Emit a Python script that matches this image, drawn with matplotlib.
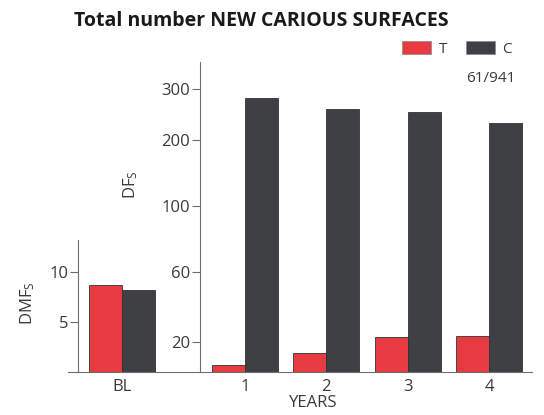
import numpy as np
import matplotlib
matplotlib.use('Agg')
import matplotlib.pyplot as plt
from matplotlib.patches import Patch

plt.rcParams['font.family'] = ['Open Sans', 'DejaVu Sans']
plt.rcParams['mathtext.fontset'] = 'custom'
plt.rcParams['mathtext.rm'] = 'Open Sans'
plt.rcParams['mathtext.it'] = 'Open Sans'

# ---- data ----
baseline_label = ['BL']
baseline_T = [8.7]
baseline_C = [8.2]

years = [1, 2, 3, 4]
year_labels = ['1', '2', '3', '4']
treat_T = [4.5, 12.3, 22.9, 23.5]
control_C = [282, 261, 255, 233]

left_ticks = [5, 10]
right_ticks = [20, 60, 100, 200, 300]

RED = '#e63b40'
DARK = '#3f4043'
SPINE = '#6e6e6e'
TXT = '#3a3a3a'

# broken (piecewise) y scale
knot_vals = np.array([0, 20, 60, 100, 200, 300, 400])
knot_pos = np.array([0, 30.0, 99.4, 166.0, 231.7, 282.4, 333.1])


def fwd(v):
    return np.interp(v, knot_vals, knot_pos)


def inv(p):
    return np.interp(p, knot_pos, knot_vals)


fig = plt.figure(figsize=(5.44, 4.15), dpi=100)
W, H = 544, 415


def box(x0, x1, ytop, ybot):
    return [x0 / W, (H - ybot) / H, (x1 - x0) / W, (ybot - ytop) / H]


# ---- baseline panel ----
axL = fig.add_axes(box(68, 200, 240, 371.7))
bw = 0.404
xl = np.arange(len(baseline_label))
axL.bar(xl - bw / 2, baseline_T, bw, color=RED, edgecolor='#333333', linewidth=0.6)
axL.bar(xl + bw / 2, baseline_C, bw, color=DARK, edgecolor='#333333', linewidth=0.6)
axL.set_xlim(-0.667, 0.949)
axL.set_ylim(0, 13.2)
axL.set_yticks(left_ticks)
axL.set_xticks(xl)
axL.set_xticklabels(baseline_label)
axL.spines['left'].set_position(('axes', 10 / 132))
for s in ['top', 'right']:
    axL.spines[s].set_visible(False)
for s in ['left', 'bottom']:
    axL.spines[s].set_color(SPINE)
axL.tick_params(axis='x', length=0, pad=5, labelsize=12, colors=TXT)
axL.tick_params(axis='y', length=6, width=0.8, color=SPINE, labelsize=12, colors=TXT, pad=1)
axL.patch.set_alpha(0)

# ---- yearly panel ----
axR = fig.add_axes(box(200, 532, 62, 371.7))
axR.set_yscale('function', functions=(fwd, inv))
xr = np.array(years)
axR.bar(xr - bw / 2, treat_T, bw, color=RED, edgecolor='#333333', linewidth=0.6)
axR.bar(xr + bw / 2, control_C, bw, color=DARK, edgecolor='#333333', linewidth=0.6)
axR.set_xlim(0.449, 4.526)
axR.set_ylim(0, 354)
axR.set_yticks(right_ticks)
axR.set_yticklabels([str(t) for t in right_ticks])
axR.minorticks_off()
axR.set_xticks(xr)
axR.set_xticklabels(year_labels)
for s in ['top', 'right']:
    axR.spines[s].set_visible(False)
for s in ['left', 'bottom']:
    axR.spines[s].set_color(SPINE)
axR.tick_params(axis='x', length=0, pad=5, labelsize=12, colors=TXT)
axR.tick_params(axis='y', length=6, width=0.8, color=SPINE, labelsize=12, colors=TXT, pad=1)
axR.patch.set_alpha(0)

# axis labels
fig.text(28 / W, 1 - 303 / H, r'DMF$_\mathrm{S}$', rotation=90, ha='center', va='center',
         fontsize=12, color=TXT)
fig.text(131 / W, 1 - 185 / H, r'DF$_\mathrm{S}$', rotation=90, ha='center', va='center',
         fontsize=12, color=TXT)
fig.text(313 / W, 1 - 403 / H, 'YEARS', ha='center', va='center', fontsize=12, color=TXT)

# title
fig.text(261 / W, 1 - 21 / H, 'Total number NEW CARIOUS SURFACES', ha='center', va='center',
         fontsize=14, fontweight='bold', color='#1a1a1a')

# legend
handles = [Patch(facecolor=RED, edgecolor='#888888', linewidth=0.5, label='T'),
           Patch(facecolor=DARK, edgecolor='#888888', linewidth=0.5, label='C')]
fig.legend(handles=handles, loc='center', bbox_to_anchor=(457 / W, 1 - 49 / H), ncol=2,
           frameon=False, fontsize=11, handlelength=1.9, handleheight=0.9,
           handletextpad=0.5, columnspacing=1.2, labelcolor=TXT)
fig.text(491 / W, 1 - 78 / H, '61/941', ha='center', va='center', fontsize=11, color=TXT)

fig.savefig('out.png', dpi=100)
